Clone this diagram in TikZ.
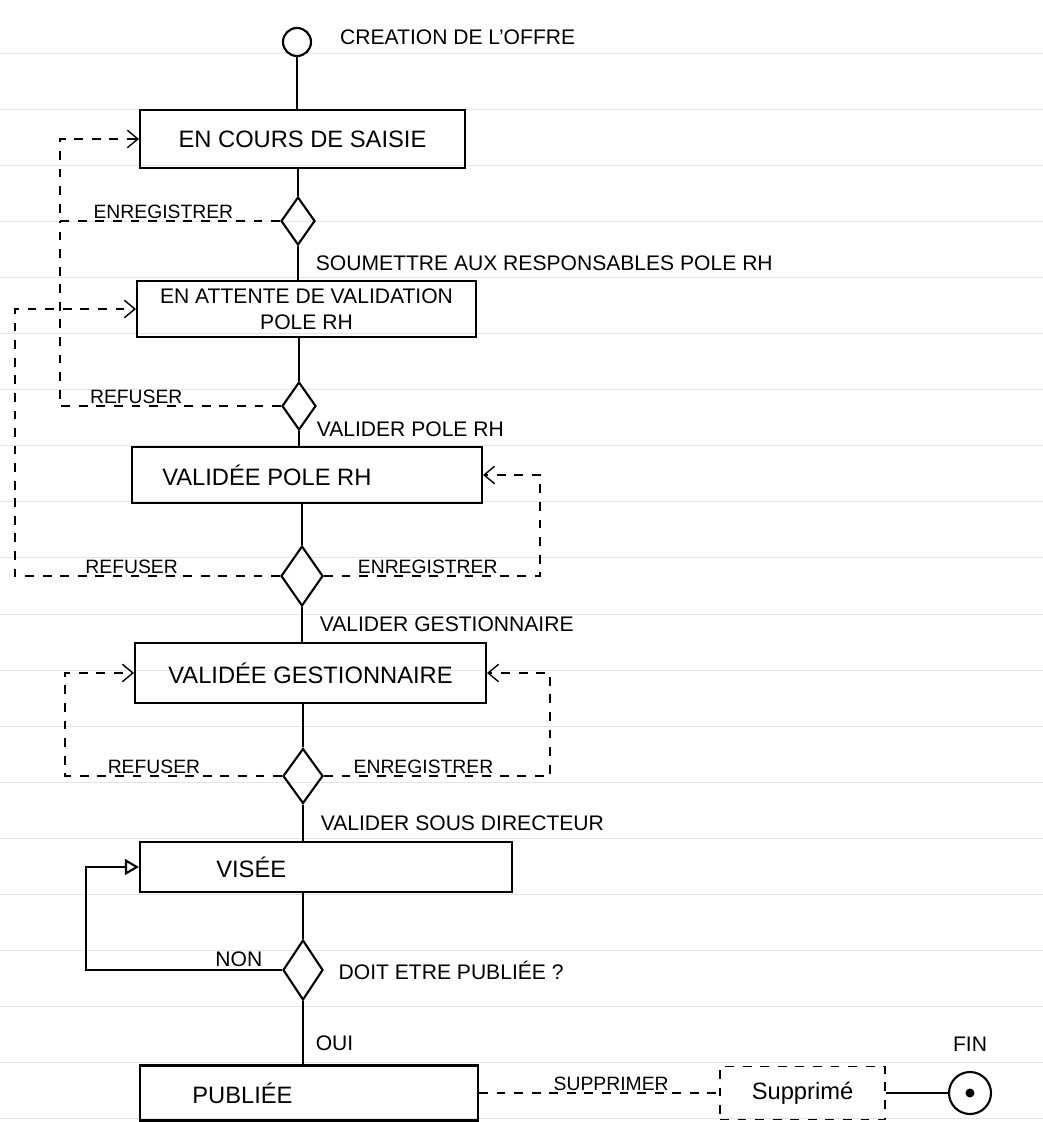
\documentclass[tikz,border=0pt]{standalone}
\usepackage{fontspec}
\setmainfont{Liberation Sans}
\usetikzlibrary{shapes.geometric,arrows.meta,positioning}

\tikzset{
  etat/.style={draw, line width=1.2pt, font=\fontsize{13.5}{16}\selectfont, inner sep=2pt},
  texte/.style={anchor=west, inner sep=0pt, font=\fontsize{13.5}{16}\selectfont},
  choix/.style={diamond, draw, line width=1.2pt, minimum width=0.68cm, minimum height=0.96cm, inner sep=0pt},
  lien/.style={line width=1.2pt},
  boucle/.style={line width=0.8pt, dash pattern=on 5pt off 5pt},
  fleche/.style={-{Straight Barb[length=6pt,width=10pt]}},
  lbl/.style={font=\fontsize{12}{14}\selectfont, inner sep=1pt},
  petit/.style={font=\fontsize{11}{13}\selectfont, inner sep=1pt},
  papier/.style={gray!20, line width=0.5pt}
}

\begin{document}
\begin{tikzpicture}[x=0.02cm,y=-0.02cm]
    \useasboundingbox (0,0) rectangle (1043,1122);
    \foreach \k in {0,...,19}
        \draw[papier] (0,53+56.1*\k) -- (1043,53+56.1*\k);

    \node[circle, draw, line width=1.2pt, minimum size=0.56cm, inner sep=0pt] (debut) at (297,42) {};
    \node[lbl, anchor=west] (titre) at (338,37) {CREATION DE L'OFFRE};

    \node[etat, minimum width=6.5cm, minimum height=1.16cm] (b1) at (302.5,139) {EN COURS DE SAISIE};
    \node[etat, minimum width=6.78cm, minimum height=1.12cm, align=center, font=\fontsize{12}{15}\selectfont] (b2) at (306.5,309) {EN ATTENTE DE VALIDATION\\POLE RH};
    \node[etat, minimum width=7cm, minimum height=1.12cm] (b3) at (307,475) {};
    \node[texte] (t3) at ([xshift=0.62cm]b3.west) {VALIDÉE POLE RH};
    \node[etat, minimum width=7.02cm, minimum height=1.2cm] (b4) at (310.5,673) {VALIDÉE GESTIONNAIRE};
    \node[etat, minimum width=7.44cm, minimum height=1cm] (b5) at (326,867) {};
    \node[texte] (t5) at ([xshift=1.54cm]b5.west) {VISÉE};
    \node[etat, minimum width=6.76cm, minimum height=1.1cm] (b6) at (309,1093) {};
    \node[texte] (t6) at ([xshift=1.06cm]b6.west) {PUBLIÉE};
    \node[etat, boucle, minimum width=3.3cm, minimum height=1.06cm] (b7) at (802.5,1093) {Supprimé};

    \node[choix] (d1) at (298,221) {};
    \node[choix] (d2) at (299,406) {};
    \node[choix, minimum width=0.84cm, minimum height=1.2cm] (d3) at (302,576) {};
    \node[choix, minimum width=0.8cm, minimum height=1.1cm] (d4) at (303,776) {};
    \node[choix, minimum width=0.8cm, minimum height=1.2cm, label={[lbl, label distance=0.25cm]right:DOIT ETRE PUBLIÉE ?}] (d5) at (303,970) {};

    \node[circle, draw, line width=1.2pt, minimum size=0.84cm, inner sep=0pt, label={[lbl, label distance=0.35cm]above:FIN}] (fin) at (970,1093) {};
    \node[circle, fill, minimum size=0.18cm, inner sep=0pt] (point) at (fin) {};

    \coordinate (gA) at (60,0);
    \coordinate (gB) at (15,0);
    \coordinate (gC) at (540,0);
    \coordinate (gD) at (65,0);
    \coordinate (gE) at (550,0);
    \coordinate (gF) at (86,0);

    \draw[lien] (debut) -- (debut |- b1.north);
    \draw[lien] (d1 |- b1.south) -- (d1);
    \draw[lien] (d1) -- node[lbl, right=0.3cm] {SOUMETTRE AUX RESPONSABLES POLE RH} (d1 |- b2.north);
    \draw[lien] (d2 |- b2.south) -- (d2);
    \draw[lien] (d2) -- node[lbl, right=0.3cm, yshift=0.18cm] {VALIDER POLE RH} (d2 |- b3.north);
    \draw[lien] (d3 |- b3.south) -- (d3);
    \draw[lien] (d3) -- node[lbl, right=0.3cm] {VALIDER GESTIONNAIRE} (d3 |- b4.north);
    \draw[lien] (d4 |- b4.south) -- (d4);
    \draw[lien] (d4) -- node[lbl, right=0.3cm] {VALIDER SOUS DIRECTEUR} (d4 |- b5.north);
    \draw[lien] (d5 |- b5.south) -- (d5);
    \draw[lien] (d5) -- node[lbl, right=0.2cm, yshift=-0.2cm] {OUI} (d5 |- b6.north);

    \draw[boucle, fleche] (d1) -- node[petit, above, pos=0.53] {ENREGISTRER} (gA |- d1) -- (gA |- b1) -- (b1);
    \draw[boucle] (d2) -- node[petit, above, pos=0.655] {REFUSER} (gA |- d2) -- (gA |- d1);
    \draw[boucle, fleche] (d3) -- node[petit, above, pos=0.56] {REFUSER} (gB |- d3) -- (gB |- b2) -- (b2);
    \draw[boucle, fleche] (d3) -- node[petit, above, pos=0.48] {ENREGISTRER} (gC |- d3) -- (gC |- b3) -- (b3);
    \draw[boucle, fleche] (d4) -- node[petit, above, pos=0.59] {REFUSER} (gD |- d4) -- (gD |- b4) -- (b4);
    \draw[boucle, fleche] (d4) -- node[petit, above, pos=0.44] {ENREGISTRER} (gE |- d4) -- (gE |- b4) -- (b4);
    \draw[lien, -{Triangle[open,length=8pt,width=9pt]}] (d5) -- node[lbl, above, pos=0.22] {NON} (gF |- d5) -- (gF |- b5) -- (b5);

    \draw[boucle] (b6) -- node[petit, above, pos=0.55] {SUPPRIMER} (b7);
    \draw[lien] (b7) -- (fin);
\end{tikzpicture}
\end{document}
